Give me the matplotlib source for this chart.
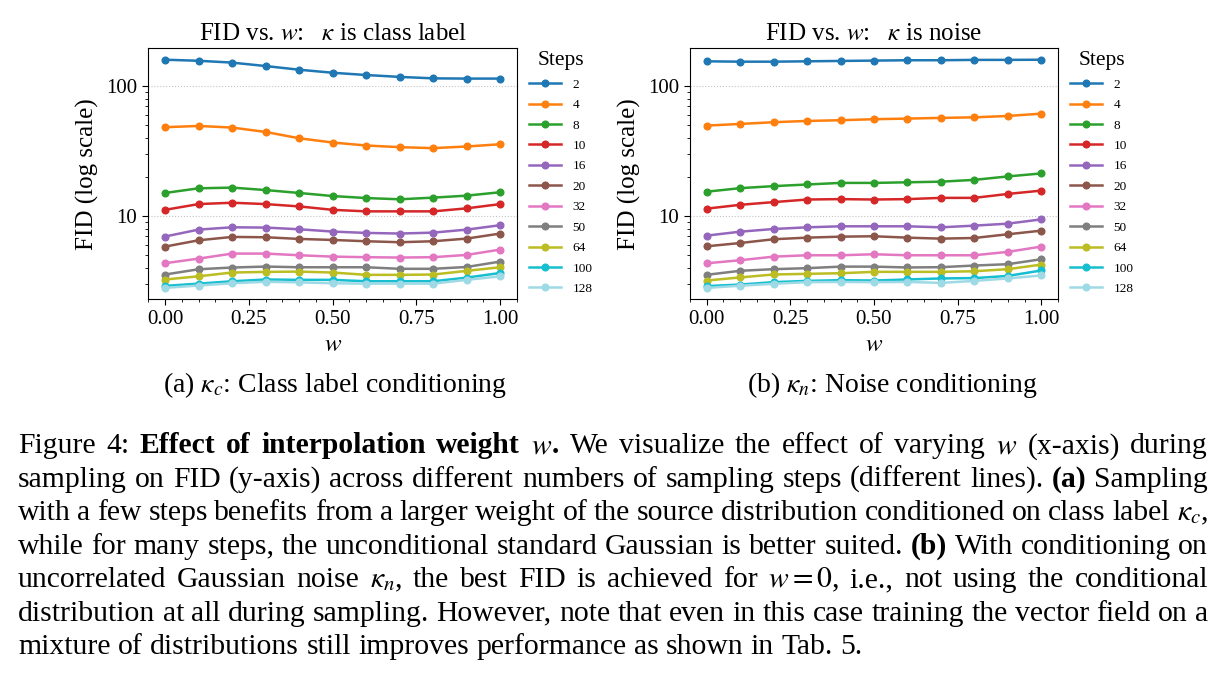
import matplotlib
matplotlib.use("Agg")
import matplotlib.pyplot as plt
from matplotlib.ticker import AutoMinorLocator, FuncFormatter, NullFormatter

plt.rcParams['font.family'] = ['Liberation Serif', 'DejaVu Serif']
plt.rcParams['mathtext.fontset'] = 'stix'

# ---------------- data ----------------
w_values = [0.0, 0.1, 0.2, 0.3, 0.4, 0.5, 0.6, 0.7, 0.8, 0.9, 1.0]
steps = [2, 4, 8, 10, 16, 20, 32, 50, 64, 100, 128]

# (a) kappa_c : class label conditioning
cls_s2 = [160, 157, 152, 143, 134, 127, 122, 118, 115, 114.5, 114.5]
cls_s4 = [48.4, 49.5, 48.1, 44.5, 39.8, 36.9, 35.0, 34.0, 33.4, 34.4, 35.8]
cls_s8 = [15.1, 16.4, 16.6, 15.9, 15.1, 14.3, 13.8, 13.5, 13.9, 14.4, 15.3]
cls_s10 = [11.2, 12.4, 12.7, 12.4, 11.9, 11.2, 10.9, 10.9, 10.9, 11.5, 12.4]
cls_s16 = [6.98, 7.89, 8.22, 8.18, 7.94, 7.62, 7.44, 7.36, 7.48, 7.89, 8.53]
cls_s20 = [5.84, 6.53, 6.93, 6.89, 6.69, 6.57, 6.42, 6.31, 6.42, 6.73, 7.36]
cls_s32 = [4.35, 4.72, 5.16, 5.16, 5.01, 4.89, 4.84, 4.81, 4.84, 5.04, 5.54]
cls_s50 = [3.56, 3.91, 4.03, 4.10, 4.05, 4.05, 4.05, 3.94, 3.94, 4.07, 4.48]
cls_s64 = [3.26, 3.45, 3.69, 3.73, 3.75, 3.69, 3.54, 3.54, 3.56, 3.80, 4.05]
cls_s100 = [2.91, 3.03, 3.16, 3.26, 3.24, 3.24, 3.16, 3.16, 3.16, 3.37, 3.66]
cls_s128 = [2.81, 2.93, 3.05, 3.13, 3.10, 3.05, 3.03, 3.03, 3.03, 3.24, 3.45]

# (b) kappa_n : noise conditioning
noi_s2 = [156, 155, 155, 156, 157, 158, 159, 159, 160, 160, 160.5]
noi_s4 = [49.8, 51.3, 52.9, 54.1, 54.8, 55.8, 56.4, 57.1, 57.7, 59.1, 61.6]
noi_s8 = [15.4, 16.4, 17.0, 17.5, 18.0, 18.0, 18.2, 18.4, 19.0, 20.2, 21.3]
noi_s10 = [11.4, 12.2, 12.8, 13.4, 13.5, 13.4, 13.5, 13.8, 13.8, 14.8, 15.7]
noi_s16 = [7.06, 7.57, 7.94, 8.18, 8.33, 8.33, 8.33, 8.18, 8.43, 8.73, 9.42]
noi_s20 = [5.84, 6.19, 6.62, 6.81, 6.93, 6.98, 6.81, 6.69, 6.77, 7.23, 7.71]
noi_s32 = [4.32, 4.56, 4.86, 4.98, 4.98, 5.07, 4.98, 4.98, 4.98, 5.29, 5.81]
noi_s50 = [3.52, 3.78, 3.89, 3.96, 4.07, 4.07, 4.01, 4.03, 4.15, 4.25, 4.64]
noi_s64 = [3.18, 3.36, 3.54, 3.58, 3.62, 3.71, 3.71, 3.71, 3.75, 3.89, 4.22]
noi_s100 = [2.88, 2.96, 3.09, 3.16, 3.20, 3.18, 3.24, 3.30, 3.32, 3.45, 3.80]
noi_s128 = [2.79, 2.90, 3.00, 3.09, 3.10, 3.09, 3.10, 3.05, 3.16, 3.30, 3.48]

cls_series = [cls_s2, cls_s4, cls_s8, cls_s10, cls_s16, cls_s20, cls_s32,
              cls_s50, cls_s64, cls_s100, cls_s128]
noi_series = [noi_s2, noi_s4, noi_s8, noi_s10, noi_s16, noi_s20, noi_s32,
              noi_s50, noi_s64, noi_s100, noi_s128]

titles = [r"FID vs. $w$:$\quad\kappa$ is class label",
          r"FID vs. $w$:$\quad\kappa$ is noise"]
subcaptions = [r"(a) $\kappa_c$: Class label conditioning",
               r"(b) $\kappa_n$: Noise conditioning"]

caption_lines = [
    r"Figure 4: **Effect of interpolation weight** $w$**.** We visualize the effect of varying $w$ (x-axis) during",
    r"sampling on FID (y-axis) across different numbers of sampling steps (different lines). **(a)** Sampling",
    r"with a few steps benefits from a larger weight of the source distribution conditioned on class label $\kappa_c$,",
    r"while for many steps, the unconditional standard Gaussian is better suited. **(b)** With conditioning on",
    r"uncorrelated Gaussian noise $\kappa_n$, the best FID is achieved for $w=0$, i.e., not using the conditional",
    r"distribution at all during sampling. However, note that even in this case training the vector field on a",
    r"mixture of distributions still improves performance as shown in Tab. 5.",
]

# ---------------- style ----------------
colors = ['#1f77b4', '#ff7f0e', '#2ca02c', '#d62728', '#9467bd', '#8c564b',
          '#e377c2', '#7f7f7f', '#bcbd22', '#17becf', '#9edae5']

W, H = 1224, 674
fig = plt.figure(figsize=(W / 100, H / 100), dpi=100)

ax_rects = [[148.3 / W, 1 - 299.3 / H, 368.7 / W, 251 / H],
            [690 / W, 1 - 299.3 / H, 368 / W, 251 / H]]

for rect, series, title in zip(ax_rects, [cls_series, noi_series], titles):
    ax = fig.add_axes(rect)
    for s, vals, c in zip(steps, series, colors):
        ax.plot(w_values, vals, marker='o', ms=4.8, lw=1.8, color=c, label=str(s))
    ax.set_yscale('log')
    ax.yaxis.set_major_formatter(FuncFormatter(lambda v, _: f"{v:g}"))
    ax.yaxis.set_minor_formatter(NullFormatter())
    ax.xaxis.set_minor_locator(AutoMinorLocator(5))
    ax.set_xticks([0.0, 0.25, 0.5, 0.75, 1.0])
    ax.set_xticklabels(["0.00", "0.25", "0.50", "0.75", "1.00"])
    ax.tick_params(axis='both', which='major', labelsize=15, length=4.5)
    ax.tick_params(axis='both', which='minor', length=2.5)
    ax.grid(axis='y', which='major', linestyle=':', color='#c4c4c4', lw=0.8)
    ax.set_title(title, fontsize=18, pad=6)
    ax.set_xlabel(r"$w$", fontsize=18, labelpad=3)
    ax.set_ylabel("FID (log scale)", fontsize=18, labelpad=5)
    ax.legend(title="Steps", loc='upper left', bbox_to_anchor=(1.0, 1.035),
              frameon=False, fontsize=9.5, title_fontsize=15.5,
              handlelength=2.4, handletextpad=0.9, labelspacing=0.62)

for cx, txt in zip([335, 892], subcaptions):
    fig.text(cx / W, 1 - 391.5 / H, txt, ha='center', va='baseline', fontsize=20)

# ---------------- justified caption ----------------
CAP_FS = 21.3
LEFT, RIGHT = 18, 1208
BASE0, LINE_H = 453.3, 33.45

fig.canvas.draw()
renderer = fig.canvas.get_renderer()


def text_width(txt, weight):
    t = fig.text(0, 0, txt, fontsize=CAP_FS, fontweight=weight)
    wd = t.get_window_extent(renderer).width
    t.remove()
    return wd


space_w = text_width("x x", 'normal') - 2 * text_width("x", 'normal')
bold = False
for i, line in enumerate(caption_lines):
    words = []
    for word in line.split(' '):
        segs = []
        for k, part in enumerate(word.split('**')):
            if k > 0:
                bold = not bold
            if part:
                wt = 'bold' if bold else 'normal'
                segs.append((part, wt, text_width(part, wt)))
        words.append(segs)
    widths = [sum(s[2] for s in segs) for segs in words]
    if i < len(caption_lines) - 1:
        gap = (RIGHT - LEFT - sum(widths)) / (len(words) - 1)
    else:
        gap = space_w
    x = LEFT
    y = 1 - (BASE0 + i * LINE_H) / H
    for segs, wd in zip(words, widths):
        xs = x
        for part, wt, pw in segs:
            fig.text(xs / W, y, part, fontsize=CAP_FS, fontweight=wt,
                     ha='left', va='baseline')
            xs += pw
        x += wd + gap

fig.savefig("out.png", dpi=100)
